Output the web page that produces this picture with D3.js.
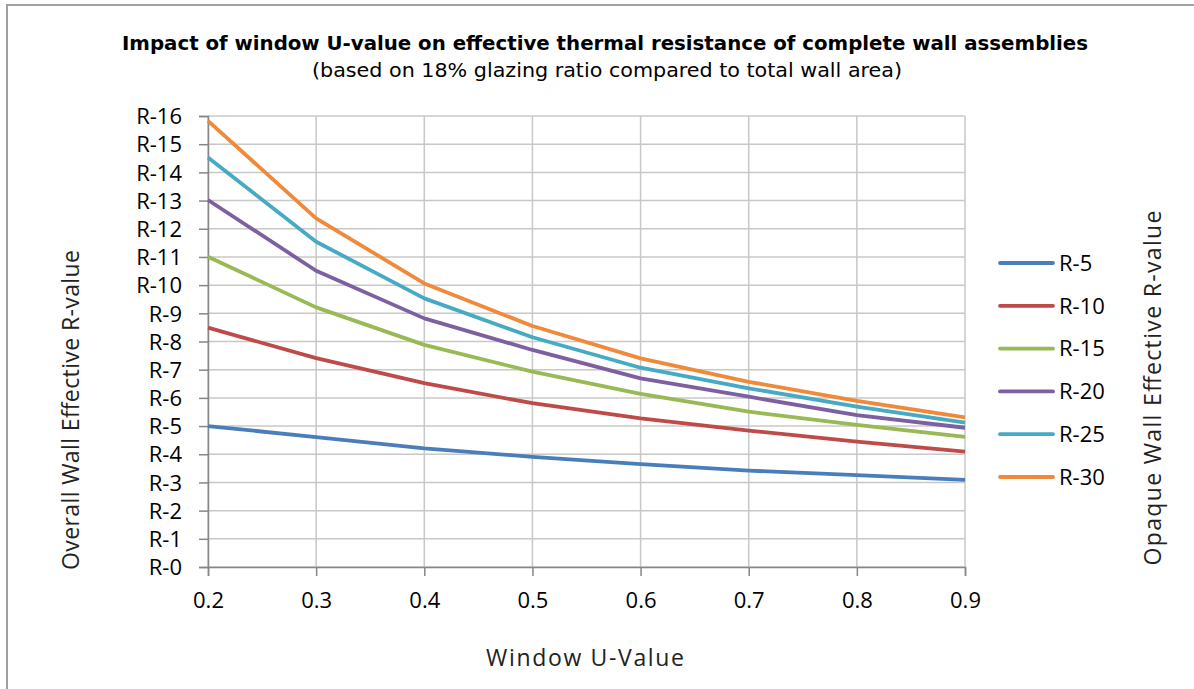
<!DOCTYPE html>
<html>
<head>
<meta charset="utf-8">
<script src="https://cdn.jsdelivr.net/npm/d3@7"></script>
<style>
  body { margin: 0; background: #fff; }
  svg { display: block; }
</style>
</head>
<body>
<div id="chart"></div>
<script>
// window U-values (x axis)
const uValues = [0.2, 0.3, 0.4, 0.5, 0.6, 0.7, 0.8, 0.9];

// overall wall effective R-value, one array per opaque wall R-value
const seriesNames = ["R-5", "R-10", "R-15", "R-20", "R-25", "R-30"];
const r5  = [5.00, 4.61, 4.21, 3.91, 3.65, 3.42, 3.26, 3.09];
const r10 = [8.49, 7.41, 6.52, 5.81, 5.27, 4.84, 4.45, 4.09];
const r15 = [11.01, 9.21, 7.88, 6.93, 6.14, 5.51, 5.04, 4.62];
const r20 = [13.02, 10.51, 8.82, 7.70, 6.69, 6.04, 5.39, 4.94];
const r25 = [14.53, 11.54, 9.53, 8.15, 7.07, 6.34, 5.69, 5.12];
const r30 = [15.83, 12.37, 10.06, 8.55, 7.40, 6.57, 5.89, 5.31];
const seriesColors = ["#4a7ebb", "#be4b48", "#98b954", "#7d60a0", "#46aac5", "#f0893a"];

const yTicks = d3.range(0, 17);

const width = 1194, height = 689;
const margin = { top: 116, right: 229, bottom: 122, left: 208 };

const svg = d3.select('#chart').append('svg')
    .attr('width', width)
    .attr('height', height);

// outer frame
svg.append('rect')
    .attr('x', 7).attr('y', 5)
    .attr('width', width + 10).attr('height', height + 10)
    .attr('fill', 'none')
    .attr('stroke', '#a0a0a0')
    .attr('stroke-width', 2);

const xScale = d3.scaleLinear()
    .domain([0.2, 0.9])
    .range([margin.left, width - margin.right]);
const yScale = d3.scaleLinear()
    .domain([0, 16])
    .range([height - margin.bottom, margin.top]);

const labelFont = "'Open Sans', 'Noto Sans', sans-serif";
const titleFont = "'DejaVu Sans Condensed', 'Liberation Sans', sans-serif";

// grid
svg.append('g')
    .selectAll('line')
    .data(yTicks)
    .enter().append('line')
    .attr('x1', margin.left).attr('x2', width - margin.right)
    .attr('y1', d => yScale(d)).attr('y2', d => yScale(d))
    .attr('stroke', '#c8c8c8')
    .attr('stroke-width', 1.5);
svg.append('g')
    .selectAll('line')
    .data(uValues)
    .enter().append('line')
    .attr('x1', d => xScale(d)).attr('x2', d => xScale(d))
    .attr('y1', margin.top).attr('y2', height - margin.bottom)
    .attr('stroke', '#c8c8c8')
    .attr('stroke-width', 1.5);

// axes
const xAxis = svg.append('g')
    .attr('transform', `translate(0, ${height - margin.bottom})`)
    .call(d3.axisBottom(xScale).tickValues(uValues).tickFormat(d3.format('.1f')).tickSize(9).tickPadding(16));
const yAxis = svg.append('g')
    .attr('transform', `translate(${margin.left}, 0)`)
    .call(d3.axisLeft(yScale).tickValues(yTicks).tickFormat(d => 'R-' + d).tickSize(9).tickPadding(17));

[xAxis, yAxis].forEach(ax => {
  ax.select('.domain').attr('stroke', '#878787').attr('stroke-width', 1.5);
  ax.selectAll('.tick line').attr('stroke', '#878787').attr('stroke-width', 1.5);
  ax.selectAll('text')
    .attr('font-family', labelFont)
    .attr('font-size', 22)
    .attr('fill', '#000');
});
yAxis.selectAll('text').attr('dy', '0.35em');

// lines
const allSeries = [r5, r10, r15, r20, r25, r30];
const line = d3.line()
    .x((d, i) => xScale(uValues[i]))
    .y(d => yScale(d));

svg.append('g')
    .selectAll('path')
    .data(allSeries)
    .enter().append('path')
    .attr('d', line)
    .attr('fill', 'none')
    .attr('stroke', (d, i) => seriesColors[i])
    .attr('stroke-width', 3.8)
    .attr('stroke-linejoin', 'round');

// legend
const legend = svg.append('g')
    .selectAll('g')
    .data(seriesNames)
    .enter().append('g')
    .attr('transform', (d, i) => `translate(1000, ${263 + i * 42.8})`);
legend.append('line')
    .attr('x1', 0).attr('x2', 53)
    .attr('stroke', (d, i) => seriesColors[i])
    .attr('stroke-width', 3.8)
    .attr('stroke-linecap', 'round');
legend.append('text')
    .attr('x', 59)
    .attr('dy', '0.35em')
    .attr('font-family', labelFont)
    .attr('font-size', 22)
    .text(d => d);

// titles
svg.append('text')
    .attr('x', 605).attr('y', 50)
    .attr('text-anchor', 'middle')
    .attr('font-family', titleFont)
    .attr('font-weight', 'bold')
    .attr('font-size', 20)
    .attr('textLength', 966)
    .attr('lengthAdjust', 'spacingAndGlyphs')
    .text('Impact of window U-value on effective thermal resistance of complete wall assemblies');
svg.append('text')
    .attr('x', 607).attr('y', 77)
    .attr('text-anchor', 'middle')
    .attr('font-family', titleFont)
    .attr('font-size', 20)
    .attr('textLength', 590)
    .attr('lengthAdjust', 'spacingAndGlyphs')
    .text('(based on 18% glazing ratio compared to total wall area)');

svg.append('text')
    .attr('x', 585).attr('y', 666)
    .attr('text-anchor', 'middle')
    .attr('font-family', labelFont)
    .attr('font-size', 23)
    .attr('fill', '#222')
    .attr('textLength', 198)
    .text('Window U-Value');

svg.append('text')
    .attr('transform', 'translate(79, 410) rotate(-90)')
    .attr('text-anchor', 'middle')
    .attr('font-family', labelFont)
    .attr('font-size', 23)
    .attr('fill', '#222')
    .attr('textLength', 320)
    .text('Overall Wall Effective R-value');

svg.append('text')
    .attr('transform', 'translate(1161, 388) rotate(-90)')
    .attr('text-anchor', 'middle')
    .attr('font-family', labelFont)
    .attr('font-size', 23)
    .attr('fill', '#222')
    .attr('textLength', 355)
    .text('Opaque Wall Effective R-value');
</script>
</body>
</html>
